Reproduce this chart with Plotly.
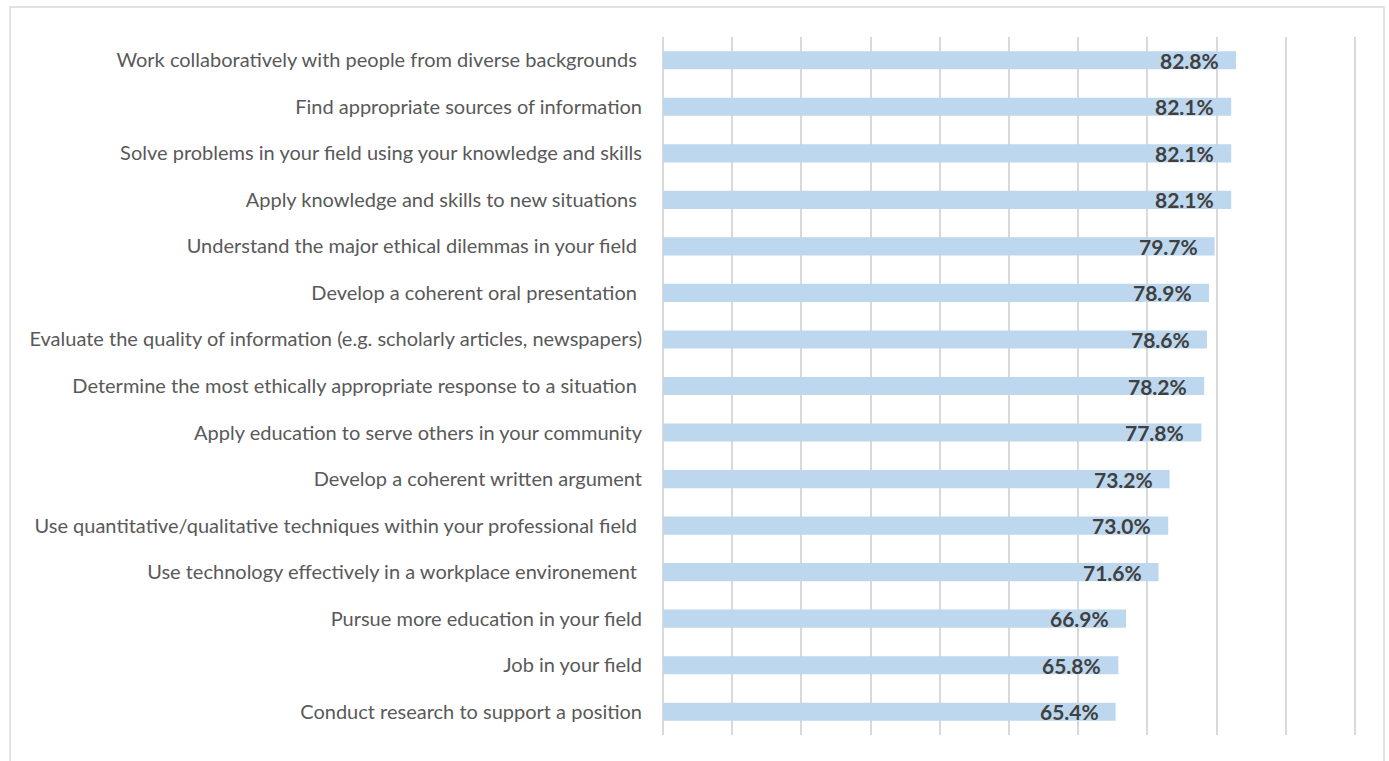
import plotly.graph_objects as go

categories = [
    "Work collaboratively with people from diverse backgrounds\u00a0",
    "Find appropriate sources of information",
    "Solve problems in your field using your knowledge and skills",
    "Apply knowledge and skills to new situations\u00a0",
    "Understand the major ethical dilemmas in your field\u00a0",
    "Develop a coherent oral presentation\u00a0",
    "Evaluate the quality of information (e.g. scholarly articles, newspapers)",
    "Determine the most ethically appropriate response to a situation\u00a0",
    "Apply education to serve others in your community",
    "Develop a coherent written argument",
    "Use quantitative/qualitative techniques within your professional field\u00a0",
    "Use technology effectively in a workplace environement\u00a0",
    "Pursue more education in your field",
    "Job in your field",
    "Conduct research to support a position",
]
values = [0.828, 0.821, 0.821, 0.821, 0.797, 0.789, 0.786, 0.782, 0.778,
          0.732, 0.730, 0.716, 0.669, 0.658, 0.654]
grid_ticks = [0, 0.1, 0.2, 0.3, 0.4, 0.5, 0.6, 0.7, 0.8, 0.9, 1.0]

fig = go.Figure()
fig.add_trace(go.Bar(
    x=values, y=categories, orientation="h",
    marker=dict(color="#BDD7EE", line=dict(width=0)),
    width=0.39,
    hoverinfo="skip",
))

annotations = []
for c, v in zip(categories, values):
    annotations.append(dict(
        x=v, y=c, xref="x", yref="y", text=f"{v*100:.1f}%",
        showarrow=False, xanchor="right", yanchor="middle", xshift=-15,
        font=dict(family="Lato", size=21, color="#404040", weight="bold"),
    ))

plot_w = 699
fig.update_layout(
    width=1389, height=761,
    margin=dict(l=663, r=1389 - 663 - plot_w, t=37, b=26),
    paper_bgcolor="white", plot_bgcolor="white",
    showlegend=False,
    annotations=annotations,
    shapes=[dict(type="rect", xref="paper", yref="paper",
                 x0=(10 - 663) / plot_w, x1=(1384 - 663) / plot_w,
                 y0=-0.06, y1=(735 - 7) / 698,
                 line=dict(color="#d9d9d9", width=1.5), fillcolor="rgba(0,0,0,0)",
                 layer="below")],
)
fig.update_xaxes(range=[0, 1.01], tickmode="array", tickvals=grid_ticks,
                 showticklabels=False,
                 showgrid=True, gridcolor="#d9d9d9", gridwidth=2,
                 zeroline=True, zerolinecolor="#d9d9d9", zerolinewidth=2,
                 showline=False, fixedrange=True)
fig.update_yaxes(autorange="reversed", showgrid=False, showline=False,
                 ticks="", ticklabelstandoff=20,
                 tickfont=dict(family="Lato", size=20, color="#595959"),
                 fixedrange=True)

fig.write_html(
    "out.html",
    config={"displayModeBar": False},
    post_script="document.body.style.margin='0';document.body.style.overflow='hidden';",
)
